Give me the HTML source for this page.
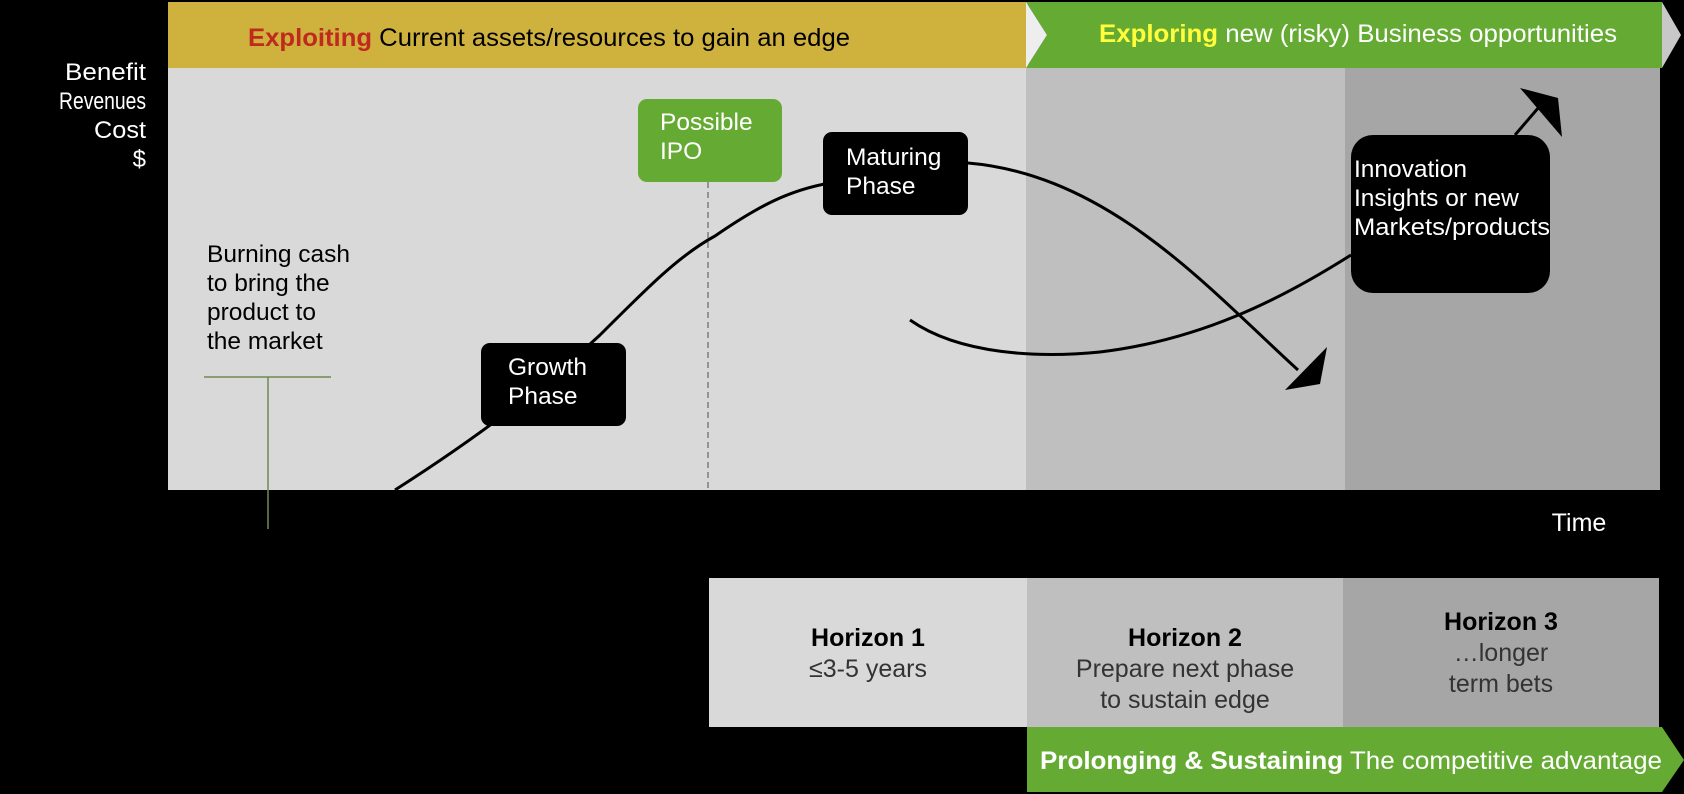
<!DOCTYPE html>
<html><head><meta charset="utf-8"><style>
html,body{margin:0;padding:0;background:#000;}
svg{display:block;font-family:"Liberation Sans",sans-serif;}
</style></head><body>
<svg width="1684" height="794" viewBox="0 0 1684 794" xmlns="http://www.w3.org/2000/svg">
<rect width="1684" height="794" fill="#000"/>
<!-- regions -->
<rect x="168" y="68" width="860" height="422" fill="#d9d9d9"/>
<rect x="1026" y="68" width="320" height="422" fill="#bfbfbf"/>
<rect x="1345" y="68" width="315" height="422" fill="#a6a6a6"/>
<!-- top bars -->
<rect x="168" y="2" width="860" height="66" fill="#cfb23e"/>
<polygon points="1026,2 1662,2 1662,68 1026,68 1047,35" fill="#65ab33"/>
<polygon points="1026,2 1047,35 1026,68" fill="#eeeeee"/>
<polygon points="1662,2 1681,35 1662,68" fill="#c8c8c8"/>
<text x="248" y="46" font-size="25" fill="#000" textLength="602" lengthAdjust="spacingAndGlyphs"><tspan fill="#c0291e" font-weight="bold">Exploiting</tspan> Current assets/resources to gain an edge</text>
<text x="1099" y="42" font-size="25" fill="#fff" textLength="518" lengthAdjust="spacingAndGlyphs"><tspan fill="#ffff3c" font-weight="bold">Exploring</tspan> new (risky) Business opportunities</text>
<!-- y axis labels -->
<g font-size="24" fill="#fff" text-anchor="end">
<text x="146" y="80" textLength="81" lengthAdjust="spacingAndGlyphs">Benefit</text>
<text x="146" y="109" textLength="87" lengthAdjust="spacingAndGlyphs">Revenues</text>
<text x="146" y="138" textLength="52" lengthAdjust="spacingAndGlyphs">Cost</text>
<text x="146" y="167">$</text>
</g>
<!-- burning cash -->
<g font-size="24.5" fill="#000">
<text x="207" y="262">Burning cash</text>
<text x="207" y="291">to bring the</text>
<text x="207" y="320">product to</text>
<text x="207" y="349">the market</text>
</g>
<line x1="204" y1="377" x2="331" y2="377" stroke="#6f8a55" stroke-width="1.5"/>
<line x1="268" y1="377" x2="268" y2="529" stroke="#6f8a55" stroke-width="1.5"/>
<!-- dashed -->
<line x1="708" y1="182" x2="708" y2="490" stroke="#666" stroke-width="1.2" stroke-dasharray="6,4"/>
<!-- S curve -->
<path d="M395,490 C450,455 530,400 600,335 C650,285 680,255 715,236 C760,205 790,190 830,183" fill="none" stroke="#000" stroke-width="3"/>
<!-- down arrow from maturing -->
<path d="M968,163 C1110,175 1210,290 1298,370" fill="none" stroke="#000" stroke-width="3"/>
<polygon points="1285,390 1327,347 1320,384" fill="#000"/>
<!-- curve to innovation -->
<path d="M910,320 C960,355 1040,358 1100,352 C1200,340 1280,300 1351,255" fill="none" stroke="#000" stroke-width="3"/>
<!-- up arrow -->
<line x1="1515" y1="135" x2="1545" y2="100" stroke="#000" stroke-width="3"/>
<polygon points="1520,88 1558,98 1562,137" fill="#000"/>
<!-- boxes -->
<rect x="638" y="99" width="144" height="83" rx="9" fill="#65ab33"/>
<text x="660" y="130" font-size="24.5" fill="#fff">Possible</text>
<text x="660" y="159" font-size="24.5" fill="#fff">IPO</text>
<rect x="823" y="132" width="145" height="83" rx="9" fill="#000"/>
<text x="846" y="165" font-size="24.5" fill="#fff">Maturing</text>
<text x="846" y="194" font-size="24.5" fill="#fff">Phase</text>
<rect x="481" y="343" width="145" height="83" rx="9" fill="#000"/>
<text x="508" y="375" font-size="24.5" fill="#fff">Growth</text>
<text x="508" y="404" font-size="24.5" fill="#fff">Phase</text>
<rect x="1351" y="135" width="199" height="158" rx="22" fill="#000"/>
<g font-size="24.5" fill="#fff">
<text x="1354" y="177">Innovation</text>
<text x="1354" y="206">Insights or new</text>
<text x="1354" y="235" textLength="196" lengthAdjust="spacingAndGlyphs">Markets/products</text>
</g>
<text x="1579" y="531" font-size="25" fill="#fff" text-anchor="middle">Time</text>
<!-- horizons -->
<rect x="709" y="578" width="318" height="149" fill="#d9d9d9"/>
<rect x="1027" y="578" width="317" height="149" fill="#bfbfbf"/>
<rect x="1343" y="578" width="316" height="149" fill="#a6a6a6"/>
<g font-size="25" text-anchor="middle" fill="#333">
<text x="868" y="646" font-weight="bold" fill="#000">Horizon 1</text>
<text x="868" y="677">≤3-5 years</text>
<text x="1185" y="646" font-weight="bold" fill="#000">Horizon 2</text>
<text x="1185" y="677">Prepare next phase</text>
<text x="1185" y="708">to sustain edge</text>
<text x="1501" y="630" font-weight="bold" fill="#000">Horizon 3</text>
<text x="1501" y="661">…longer</text>
<text x="1501" y="692">term bets</text>
</g>
<polygon points="1027,727 1662,727 1684,760 1662,792 1027,792" fill="#65ab33"/>
<text x="1040" y="769" font-size="25" fill="#fff" textLength="622" lengthAdjust="spacingAndGlyphs"><tspan font-weight="bold">Prolonging  &amp; Sustaining</tspan> The competitive advantage</text>
</svg>
</body></html>
